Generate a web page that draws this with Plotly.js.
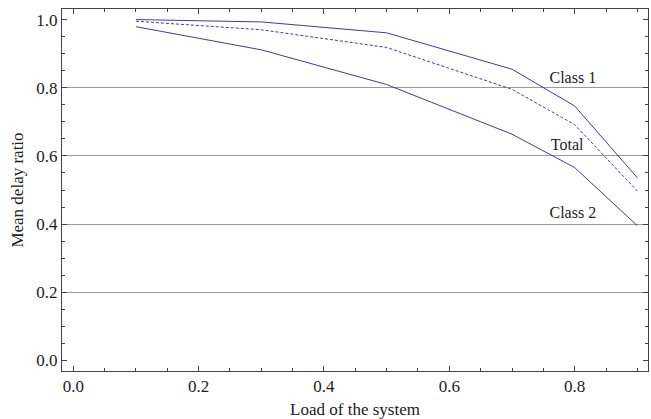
<!DOCTYPE html>
<html>
<head>
<meta charset="utf-8">
<script src="https://cdn.plot.ly/plotly-3.0.1.min.js"></script>
<style>html,body{margin:0;padding:0;background:#fff;}#chart{width:651px;height:419px;}</style>
</head>
<body>
<div id="chart"></div>
<script>
const load = [0.1, 0.3, 0.5, 0.7, 0.8, 0.9];
const class1 = [1.001, 0.994, 0.962, 0.855, 0.747, 0.536];
const total = [0.996, 0.971, 0.919, 0.796, 0.692, 0.497];
const class2 = [0.980, 0.912, 0.810, 0.664, 0.566, 0.395];
const labelTexts = ["Class 1", "Total", "Class 2"];
const labelX = [0.797, 0.788, 0.797];
const labelY = [0.826, 0.629, 0.429];
const gridValues = [0.2, 0.4, 0.6, 0.8];

const lineColor = '#3d3d99';
const tickFont = {family: 'Liberation Serif', size: 17, color: '#222'};
const labelFont = {family: 'Liberation Serif', size: 16, color: '#222'};
const titleFont = {family: 'Liberation Serif', size: 17, color: '#222'};

const traces = [
  {x: load, y: class1, mode: 'lines', line: {color: lineColor, width: 1}, name: 'Class 1'},
  {x: load, y: total, mode: 'lines', line: {color: lineColor, width: 1, dash: '3px,2px'}, name: 'Total'},
  {x: load, y: class2, mode: 'lines', line: {color: lineColor, width: 1}, name: 'Class 2'},
  {x: labelX, y: labelY, mode: 'text', text: labelTexts, textfont: labelFont, textposition: 'middle center', hoverinfo: 'skip'}
];

const axisCommon = {
  showgrid: false, zeroline: false, showline: true, linecolor: '#444', linewidth: 1,
  mirror: 'ticks', ticks: 'inside', ticklen: 5, tickcolor: '#444', tickwidth: 1,
  tickfont: tickFont
};

const layout = {
  width: 651, height: 419,
  margin: {l: 62, r: 3, t: 9, b: 48},
  paper_bgcolor: '#fff', plot_bgcolor: '#fff',
  showlegend: false,
  font: tickFont,
  xaxis: Object.assign({}, axisCommon, {
    range: [-0.018, 0.917], tickvals: [0, 0.2, 0.4, 0.6, 0.8], ticktext: ['0.0','0.2','0.4','0.6','0.8'],
    minor: {dtick: 0.05, tick0: 0, ticks: 'inside', ticklen: 3, tickcolor: '#444'},
    title: {text: 'Load of the system', font: titleFont, standoff: 8}
  }),
  yaxis: Object.assign({}, axisCommon, {
    range: [-0.032, 1.032], tickvals: [0, 0.2, 0.4, 0.6, 0.8, 1.0], ticktext: ['0.0','0.2','0.4','0.6','0.8','1.0'],
    minor: {dtick: 0.05, tick0: 0, ticks: 'inside', ticklen: 3, tickcolor: '#444'},
    title: {text: 'Mean delay ratio', font: titleFont, standoff: 8}
  }),
  yaxis2: {
    overlaying: 'y', range: [-0.032, 1.032], tickvals: gridValues, showticklabels: false,
    showgrid: true, gridcolor: '#999', gridwidth: 1, showline: false, zeroline: false, ticks: '', layer: 'below traces'
  }
};
traces.push({x: [null], y: [null], yaxis: 'y2', mode: 'lines', hoverinfo: 'skip'});

Plotly.newPlot('chart', traces, layout, {displayModeBar: false, staticPlot: true});
</script>
</body>
</html>
